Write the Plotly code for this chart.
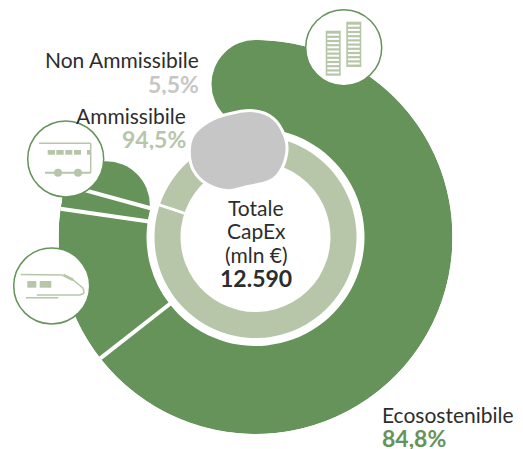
import numpy as np
import plotly.graph_objects as go

W, H = 523, 449
outer_labels = ["Ecosostenibile", "Treno", "Bus"]
outer_values = [84.8, 16.9, 2.6]
inner_labels = ["Ammissibile", "Non Ammissibile"]
inner_values = [94.5, 5.5]
total_lines = ["Totale", "CapEx", "(mln €)"]
total_value = "12.590"
eco_share, amm_share, non_share = "84,8%", "94,5%", "5,5%"

GREEN, LIGHT, GREY, INK = "#65935a", "#b7c6a8", "#c6c6c6", "#2d2d2d"
FONT = "Lato"
CX, CY, R = 255.5, 237.0, 197.0
DEG_PER_UNIT = 2.7358
CAP_END = 282.0


def px(x): return x / W
def py(y): return 1 - y / H


def smooth(points):
    pts = [(px(x), py(y)) for x, y in points]
    n = len(pts)
    d = f"M {pts[0][0]:.5f},{pts[0][1]:.5f}"
    for i in range(n):
        p0, p1, p2, p3 = pts[i - 1], pts[i], pts[(i + 1) % n], pts[(i + 2) % n]
        c1 = (p1[0] + (p2[0] - p0[0]) / 6, p1[1] + (p2[1] - p0[1]) / 6)
        c2 = (p2[0] - (p3[0] - p1[0]) / 6, p2[1] - (p3[1] - p1[1]) / 6)
        d += f" C {c1[0]:.5f},{c1[1]:.5f} {c2[0]:.5f},{c2[1]:.5f} {p2[0]:.5f},{p2[1]:.5f}"
    return d + " Z"


outer_deg = np.array(outer_values) * DEG_PER_UNIT
outer_edges = np.cumsum(outer_deg)
outer_starts = outer_edges - outer_deg

fig = go.Figure()
# Outer ring
fig.add_trace(go.Barpolar(
    theta=list(outer_starts + outer_deg / 2), width=list(outer_deg),
    r=[88] * 3, base=[109] * 3,
    marker=dict(color=GREEN, line=dict(width=0)),
    hoverinfo="skip", showlegend=False,
))
# Inner ring
inner_deg = np.array(inner_values) * 3.6
inner_start = 8.5
inner_centres = inner_start + np.cumsum(inner_deg) - inner_deg / 2
fig.add_trace(go.Barpolar(
    theta=list(inner_centres), width=list(inner_deg),
    r=[26, 26], base=[75, 75],
    marker=dict(color=LIGHT, line=dict(width=0)),
    hoverinfo="skip", showlegend=False,
))
# Rounded ends of the outer arc
fig.add_trace(go.Scatterpolar(
    theta=[0, CAP_END], r=[153, 153], mode="markers",
    marker=dict(size=88, color=GREEN, line=dict(width=0)),
    hoverinfo="skip", showlegend=False,
))
# Separators
for edge in outer_edges:
    fig.add_trace(go.Scatterpolar(
        theta=[edge, edge], r=[106, 197], mode="lines",
        line=dict(color="white", width=4),
        hoverinfo="skip", showlegend=False,
    ))
fig.add_trace(go.Scatterpolar(
    theta=[288.5, 288.5], r=[73, 103], mode="lines",
    line=dict(color="white", width=3),
    hoverinfo="skip", showlegend=False,
))

shapes = []
# Grey blob
blob = [(189.3, 151.7), (193.3, 135), (208.3, 121.7), (228.3, 114), (253.3, 110.7),
        (273.3, 118.3), (285, 136.7), (286.7, 153.3), (280, 171.7), (268.3, 181.7),
        (246.7, 186.7), (228.3, 190.7), (206.7, 184), (193.3, 170)]
shapes.append(dict(type="path", path=smooth(blob), xref="paper", yref="paper",
                   fillcolor=GREY, line=dict(color="white", width=3), layer="above"))


def circle(x, y, r, fill="white", color=GREEN, width=1.5):
    shapes.append(dict(type="circle", xref="paper", yref="paper",
                       x0=px(x - r), x1=px(x + r), y0=py(y + r), y1=py(y - r),
                       fillcolor=fill, line=dict(color=color, width=width), layer="above"))


def rect(x0, y0, x1, y1):
    shapes.append(dict(type="rect", xref="paper", yref="paper",
                       x0=px(x0), x1=px(x1), y0=py(y1), y1=py(y0),
                       fillcolor=LIGHT, line=dict(width=0), layer="above"))


def line(x0, y0, x1, y1, width=1.5, color=LIGHT):
    shapes.append(dict(type="line", xref="paper", yref="paper",
                       x0=px(x0), x1=px(x1), y0=py(y0), y1=py(y1),
                       line=dict(color=color, width=width), layer="above"))


# Icon badges
circle(65.7, 159, 38)
circle(51.7, 286, 38)
circle(343.7, 47.7, 38)

# Bus
line(39, 143.3, 90.7, 143.3)
line(90.7, 143.3, 90.7, 172.7)
line(45, 172.7, 90.7, 172.7, 2)
for x0, x1 in [(47.7, 55), (56.3, 63.7), (65.3, 72.3), (74, 81), (87, 90.7)]:
    rect(x0, 150, x1, 154.7)
circle(58, 172.7, 4, LIGHT, LIGHT, 0)
circle(78, 172.7, 4, LIGHT, LIGHT, 0)

# Train
line(20.7, 274.5, 63.3, 275)
line(63.3, 275, 73.3, 280, 3)
line(73.3, 280, 83.3, 288.3)
line(83.3, 288.3, 84, 293.3)
line(84, 293.3, 80, 295)
line(36.7, 295, 80, 295)
line(26, 297.7, 58.3, 297.7)
rect(27.3, 281, 36.3, 287.7)
rect(39.7, 281, 51.3, 287.7)

# Buildings
for x0, x1, y0, y1 in [(325.7, 340.7, 30.7, 75.7), (346.3, 361.3, 21.7, 67)]:
    rect(x0, y0, x1, y1)
    for y in np.arange(y0 + 3, y1 - 1.5, 4.2):
        shapes.append(dict(type="rect", xref="paper", yref="paper",
                           x0=px(x0 + 1.6), x1=px(x1 - 1.6), y0=py(y + 2), y1=py(y),
                           fillcolor="white", line=dict(width=0), layer="above"))


def text(s, x, y, size=20, color=INK, bold=False, anchor="center"):
    fig.add_annotation(
        text=f"<b>{s}</b>" if bold else s, xref="paper", yref="paper",
        x=px(x), y=py(y), xanchor=anchor, yanchor="middle", showarrow=False,
        font=dict(family=FONT, size=size, color=color),
        borderpad=0, borderwidth=0, height=23,
    )


for s, y in zip(total_lines, [207, 230.5, 254]):
    text(s, 256, y, 21)
text(total_value, 256, 277.5, 23, INK, True)
text(inner_labels[1], 199, 59.5, 21, INK, False, "right")
text(non_share, 199, 83, 23, GREY, True, "right")
text(inner_labels[0], 186, 115, 21, INK, False, "right")
text(amm_share, 186, 138.5, 23, LIGHT, True, "right")
text(outer_labels[0], 382, 414, 21, INK, False, "left")
text(eco_share, 382, 437.5, 23, GREEN, True, "left")

fig.update_layout(
    width=W, height=H, margin=dict(l=0, r=0, t=0, b=0),
    paper_bgcolor="white", plot_bgcolor="white", showlegend=False,
    shapes=shapes,
    polar=dict(
        domain=dict(x=[px(CX - R), px(CX + R)], y=[py(CY + R), py(CY - R)]),
        bgcolor="rgba(0,0,0,0)", barmode="overlay",
        radialaxis=dict(visible=False, range=[0, R]),
        angularaxis=dict(visible=False, direction="clockwise", rotation=90),
    ),
)
fig.write_html("out.html", config=dict(displayModeBar=False),
               post_script="document.body.style.margin='0';")
